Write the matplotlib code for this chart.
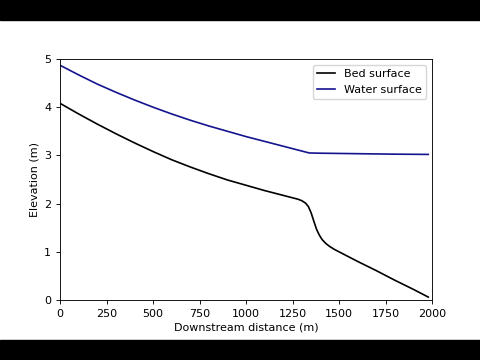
import matplotlib
matplotlib.use("Agg")
import matplotlib.pyplot as plt
from matplotlib.patches import Rectangle

# Data
bed_x = [0, 100, 200, 300, 400, 500, 600, 700, 800, 900, 1000, 1100, 1200, 1250, 1280,
         1300, 1320, 1335, 1350, 1365, 1380, 1395, 1410, 1430, 1450, 1475, 1500,
         1600, 1700, 1800, 1900, 1980]
bed_z = [4.08, 3.86, 3.65, 3.45, 3.26, 3.08, 2.91, 2.76, 2.62, 2.49, 2.38, 2.27, 2.17, 2.12, 2.09,
         2.06, 2.01, 1.94, 1.81, 1.63, 1.46, 1.34, 1.25, 1.17, 1.11, 1.05, 1.00,
         0.80, 0.61, 0.41, 0.22, 0.06]

water_x = [0, 100, 200, 300, 400, 500, 600, 700, 800, 900, 1000, 1100, 1200, 1300,
           1340, 1400, 1600, 1800, 1980]
water_z = [4.87, 4.67, 4.48, 4.31, 4.15, 4.00, 3.86, 3.73, 3.61, 3.50, 3.39, 3.29, 3.19, 3.09,
           3.05, 3.045, 3.035, 3.025, 3.02]

fig = plt.figure(figsize=(4.8, 3.6), dpi=100)
fig.patch.set_facecolor("white")
# letterbox bars
fig.patches.append(Rectangle((0, 0), 1, 20/360, transform=fig.transFigure, color="black", zorder=0))
fig.patches.append(Rectangle((0, 340/360), 1, 20/360, transform=fig.transFigure, color="black", zorder=0))

ax = fig.add_axes([0.125, 0.1667, 0.775, 0.6695])
ax.plot(bed_x, bed_z, color="black", lw=1.2, label="Bed surface")
ax.plot(water_x, water_z, color="#14148f", lw=1.2, label="Water surface")
ax.set_xlim(0, 2000)
ax.set_ylim(0, 5)
ax.set_xticks([0, 250, 500, 750, 1000, 1250, 1500, 1750, 2000])
ax.set_yticks([0, 1, 2, 3, 4, 5])
ax.tick_params(labelsize=8, length=2.8, width=0.64)
for s in ax.spines.values():
    s.set_linewidth(0.64)
ax.set_xlabel("Downstream distance (m)", fontsize=8, labelpad=2.5)
ax.set_ylabel("Elevation (m)", fontsize=8, labelpad=3)
ax.legend(loc="upper right", fontsize=8, handlelength=1.6)

fig.savefig("out.png", dpi=100)
